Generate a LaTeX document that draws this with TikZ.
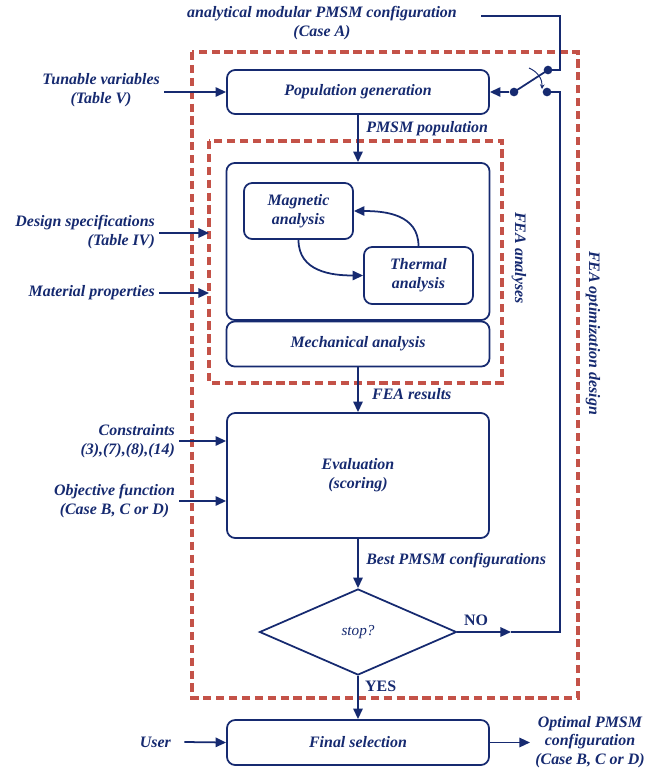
\documentclass[tikz,border=0pt]{standalone}
\usepackage{fontspec}
\setmainfont{Liberation Serif}
\usetikzlibrary{shapes.geometric,arrows.meta,positioning}
\definecolor{navy}{RGB}{22,42,112}
\definecolor{dashred}{RGB}{196,82,72}

\begin{document}
\begin{tikzpicture}[x=0.03cm,y=-0.03cm,
  font=\fontsize{13.6}{16}\selectfont\bfseries\itshape,
  every node/.style={text=navy},
  box/.style={draw=navy,line width=1.5pt,rounded corners=7pt,minimum width=7.86cm},
  wire/.style={draw=navy,line width=1.5pt},
  flow/.style={wire,-{Triangle[length=9pt,width=8pt]}},
  optbox/.style={draw=dashred,line width=2.6pt,dash pattern=on 7pt off 4pt},
  dot/.style={circle,fill=navy,inner sep=0pt,minimum size=0.26cm}]
\useasboundingbox (0,0) rectangle (660,774);

%Dashed frames of the optimization loop and of the FEA part
\draw[optbox] (192,52) rectangle (578,698);
\draw[optbox] (209,141) rectangle (502,383);
\node[rotate=-90] (optname) at (593,333) {FEA optimization design};
\node[rotate=-90] (feaname) at (519,258) {FEA analyses};

%Main blocks
\node[box,minimum height=1.32cm] (pop) at (358,92) {Population generation};
\node[box,minimum width=7.89cm,minimum height=4.71cm] (fea) at (358,241.5) {};
\node[box,minimum width=7.89cm,minimum height=1.35cm] (mech) at (358,344) {Mechanical analysis};
\node[box,minimum width=3.27cm,minimum height=1.68cm,align=center] (magn) at (298.5,211) {Magnetic\\analysis};
\node[box,minimum width=3.27cm,minimum height=1.71cm,align=center] (therm) at (418.5,275.5) {Thermal\\analysis};
\node[box,minimum height=3.75cm,align=center] (eval) at (358,475.5) {Evaluation\\(scoring)};
\node[diamond,draw=navy,line width=1.5pt,inner sep=0pt,minimum width=5.91cm,minimum height=2.58cm] (stop) at (358,632) {\fontsize{13}{15}\selectfont\mdseries\itshape stop?};
\node[box,minimum height=1.35cm] (final) at (358,742.5) {Final selection};

%Inputs
\node[align=center] (caseA) at (322,23) {analytical modular PMSM configuration\\(Case A)};
\node[align=center,anchor=east] (tunable) at (164,90) {Tunable variables\\(Table V)};
\node[align=right,anchor=east] (specs) at (159,232) {Design specifications\\(Table IV)};
\node[anchor=east] (material) at (159,293) {Material properties};
\node[align=right,anchor=east] (constr) at (179,441) {Constraints\\(3),(7),(8),(14)};
\node[align=center,anchor=east] (objective) at (179,501) {Objective function\\(Case B, C or D)};
\node[anchor=east] (user) at (175,742) {User};
\node[align=center] (optimal) at (590,742) {Optimal PMSM\\configuration\\(Case B, C or D)};

%Switch between the analytical start and the loop
\coordinate (topin) at (481,16);
\coordinate (feain1) at (209,233);
\coordinate (feain2) at (209,293);
\coordinate (loopin) at (511,632);
\node[dot] (sa) at (548,70) {};
\node[dot] (sb) at (547,92) {};
\node[dot] (sc) at (514,92) {};
\draw[wire] (topin) -| (560,70) -- (sa.center);
\draw[wire] (sc.center) -- (sa.center);
\draw[navy,line width=0.8pt,-{Stealth[length=4pt,width=4pt]}] (529,68) to[bend left=35] (542,89);
\draw[flow] (sc) -- (pop.east);

%Flow
\draw[flow] (tunable.east |- pop.west) -- (pop.west);
\draw[flow] (specs.east |- feain1) -- (feain1);
\draw[flow] (material.east |- feain2) -- (feain2);
\draw[flow] (pop.south) -- (fea.north)
  node[pos=0.3,right=3pt] {PMSM population};
\draw[flow] (magn.south) to[out=-90,in=180,looseness=1.1] (therm.west);
\draw[flow] (therm.north) to[out=90,in=0,looseness=1.1] (magn.east);
\draw[flow] (mech.south) -- (eval.north)
  node[pos=0.6,right=8pt] {FEA results};
\draw[flow] (constr.east |- 0,441) -- (eval.west |- 0,441);
\draw[flow] (objective.east |- 0,501) -- (eval.west |- 0,501);
\draw[flow] (eval.south) -- (stop.north)
  node[pos=0.45,right=3pt] {Best PMSM configurations};
\draw[flow] (stop.east) -- (loopin);
\draw[wire] (loopin) -- (560,632) |- (sb.center);
\draw[flow] (stop.south) -- (final.north)
  node[pos=0.25,right=2pt,font=\fontsize{13.6}{16}\selectfont\bfseries] {YES};
\node[font=\fontsize{13.6}{16}\selectfont\bfseries] (no) at (476,620) {NO};
\draw[flow] ([xshift=8pt]user.east) -- (final.west);
\draw[flow] (final.east) -- (final.east -| 530,0);
\end{tikzpicture}
\end{document}
